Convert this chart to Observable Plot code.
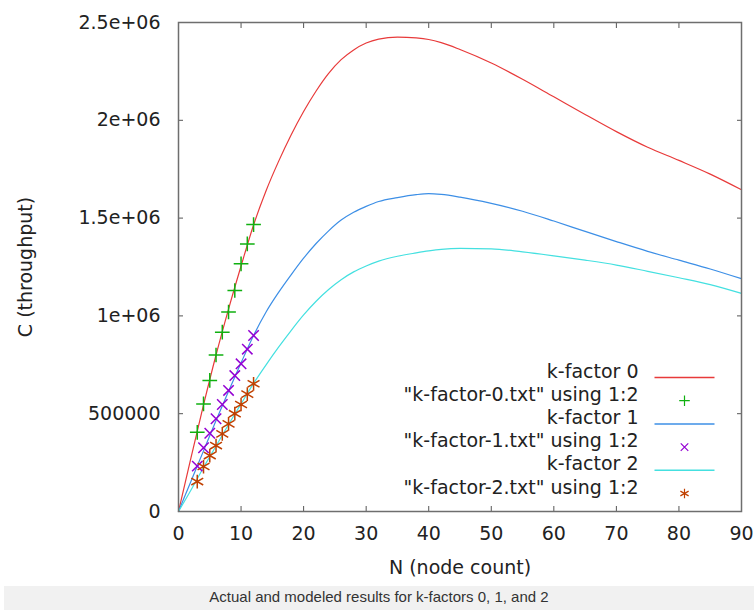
<!DOCTYPE html>
<html><head><meta charset="utf-8">
<script src="https://cdn.jsdelivr.net/npm/d3@7"></script>
<script src="https://cdn.jsdelivr.net/npm/@observablehq/plot@0.6"></script>
<style>
body{margin:0;background:#fff;}
#caption{margin-left:4px;height:24px;background:#f1f1f1;font:15px "Liberation Sans",Arial,sans-serif;color:#333;text-align:center;line-height:22px;}
</style></head><body>
<div id="chart"></div>
<div id="caption">Actual and modeled results for k-factors 0, 1, and 2</div>
<script>
// modeled curves
const lineN  = [0,2,4,6,8,10,12,14,16,18,20,22,24,26,28,30,32,35,38,40,42,45,50,55,60,65,70,75,80,85,90];
const k0Line = [0,275000,545000,800000,1035000,1255000,1465000,1640000,1790000,1925000,2045000,2150000,2240000,2310000,2360000,2395000,2415000,2425000,2421000,2413000,2397000,2362000,2293000,2210000,2120000,2030000,1942000,1862000,1795000,1725000,1645000];
const k1Line = [0,155000,310000,465000,615000,760000,900000,1020000,1120000,1210000,1295000,1370000,1435000,1490000,1530000,1560000,1585000,1605000,1620000,1625000,1621000,1607000,1575000,1535000,1485000,1432000,1380000,1330000,1285000,1240000,1190000];
const k2Line = [0,110000,225000,335000,445000,550000,655000,750000,840000,925000,1005000,1075000,1135000,1185000,1225000,1255000,1280000,1305000,1322000,1332000,1340000,1345000,1343000,1327000,1307000,1285000,1260000,1228000,1195000,1160000,1115000];
// measured points
const pointN = [3,4,5,6,7,8,9,10,11,12];
const k0Pts = [405000,550000,670000,800000,917000,1020000,1130000,1266000,1368000,1467000];
const k1Pts = [232000,326000,400000,474000,547000,619000,695000,755000,830000,900000];
const k2Pts = [153000,230000,286000,337000,397000,448000,500000,547000,600000,653000];
// axes
const xTicks = [0,10,20,30,40,50,60,70,80,90];
const yTicks = [0,500000,1000000,1500000,2000000,2500000];
const yTickLabels = ["0","500000","1e+06","1.5e+06","2e+06","2.5e+06"];
// legend
const legendLabels = ["k-factor 0", "\"k-factor-0.txt\" using 1:2", "k-factor 1", "\"k-factor-1.txt\" using 1:2", "k-factor 2", "\"k-factor-2.txt\" using 1:2"];
const lineColors = ["#e83a3a", "#3d8fe6", "#44e0e0"];
const pointColors = ["#10b010", "#9400d3", "#c04000"];
const pointSymbols = ["plus", "times", "asterisk"];
const pointRadii = [4.8, 4.8, 6.5];
const legendRadii = [3.5, 3.5, 4.5];

const lines = [k0Line, k1Line, k2Line];
const pts = [k0Pts, k1Pts, k2Pts];

const lineSymbol = {draw(ctx){ ctx.moveTo(-30,0); ctx.lineTo(30,0); }};

const marks = [];
lines.forEach((vals, s) => {
  marks.push(Plot.line(lineN.map((n,i)=>({N:n, C:vals[i]})), {x:"N", y:"C", stroke: lineColors[s], strokeWidth:1.2, curve:"monotone-x"}));
});
pts.forEach((vals, s) => {
  marks.push(Plot.dot(pointN.map((n,i)=>({N:n, C:vals[i]})), {x:"N", y:"C", stroke: pointColors[s], symbol: pointSymbols[s], r: pointRadii[s], strokeWidth:1.5}));
});
legendLabels.forEach((lab, i) => {
  const dy = -134 + i*23.2;
  marks.push(Plot.text([lab], {frameAnchor:"bottom-right", text: d=>d, dx:-103, dy, textAnchor:"end", fontSize:19, fill:"#222"}));
  const s = Math.floor(i/2);
  if (i % 2 === 0) {
    marks.push(Plot.dot([0], {frameAnchor:"bottom-right", dx:-57, dy, symbol: lineSymbol, stroke: lineColors[s], strokeWidth:1.5, fill:"none"}));
  } else {
    marks.push(Plot.dot([0], {frameAnchor:"bottom-right", dx:-57, dy, symbol: pointSymbols[s], stroke: pointColors[s], r: legendRadii[s], strokeWidth:1.2, fill:"none"}));
  }
});

const chart = Plot.plot({
  width: 754,
  height: 586,
  marginLeft: 178,
  marginRight: 13,
  marginTop: 22,
  marginBottom: 75,
  style: {fontFamily: "DejaVu Sans", background: "#fff", color: "#222"},
  x: {domain: [0, 90]},
  y: {domain: [0, 2500000]},
  marks: [
    ...marks,
    Plot.axisX({ticks: xTicks, tickSize: 0, tickPadding: 15, fontSize: 19, label: "N (node count)", labelAnchor: "center", labelArrow: "none", labelOffset: 62}),
    Plot.axisY({ticks: yTicks, tickFormat: d => yTickLabels[yTicks.indexOf(d)], tickSize: 0, tickPadding: 18, fontSize: 19, label: "C (throughput)", labelAnchor: "center", labelArrow: "none", labelOffset: 160}),
    Plot.axisX({anchor: "bottom", ticks: xTicks, tickSize: 5, dy: -5, text: null, label: null, stroke: "#555"}),
    Plot.axisX({anchor: "top", ticks: xTicks, tickSize: 5, dy: 5, text: null, label: null, stroke: "#555"}),
    Plot.axisY({anchor: "left", ticks: yTicks, tickSize: 5, dx: 5, text: null, label: null, stroke: "#555"}),
    Plot.axisY({anchor: "right", ticks: yTicks, tickSize: 5, dx: -5, text: null, label: null, stroke: "#555"}),
    Plot.frame({stroke: "#6e6e6e", strokeWidth: 1.5})
  ]
});
document.getElementById("chart").appendChild(chart);
</script>
</body></html>
